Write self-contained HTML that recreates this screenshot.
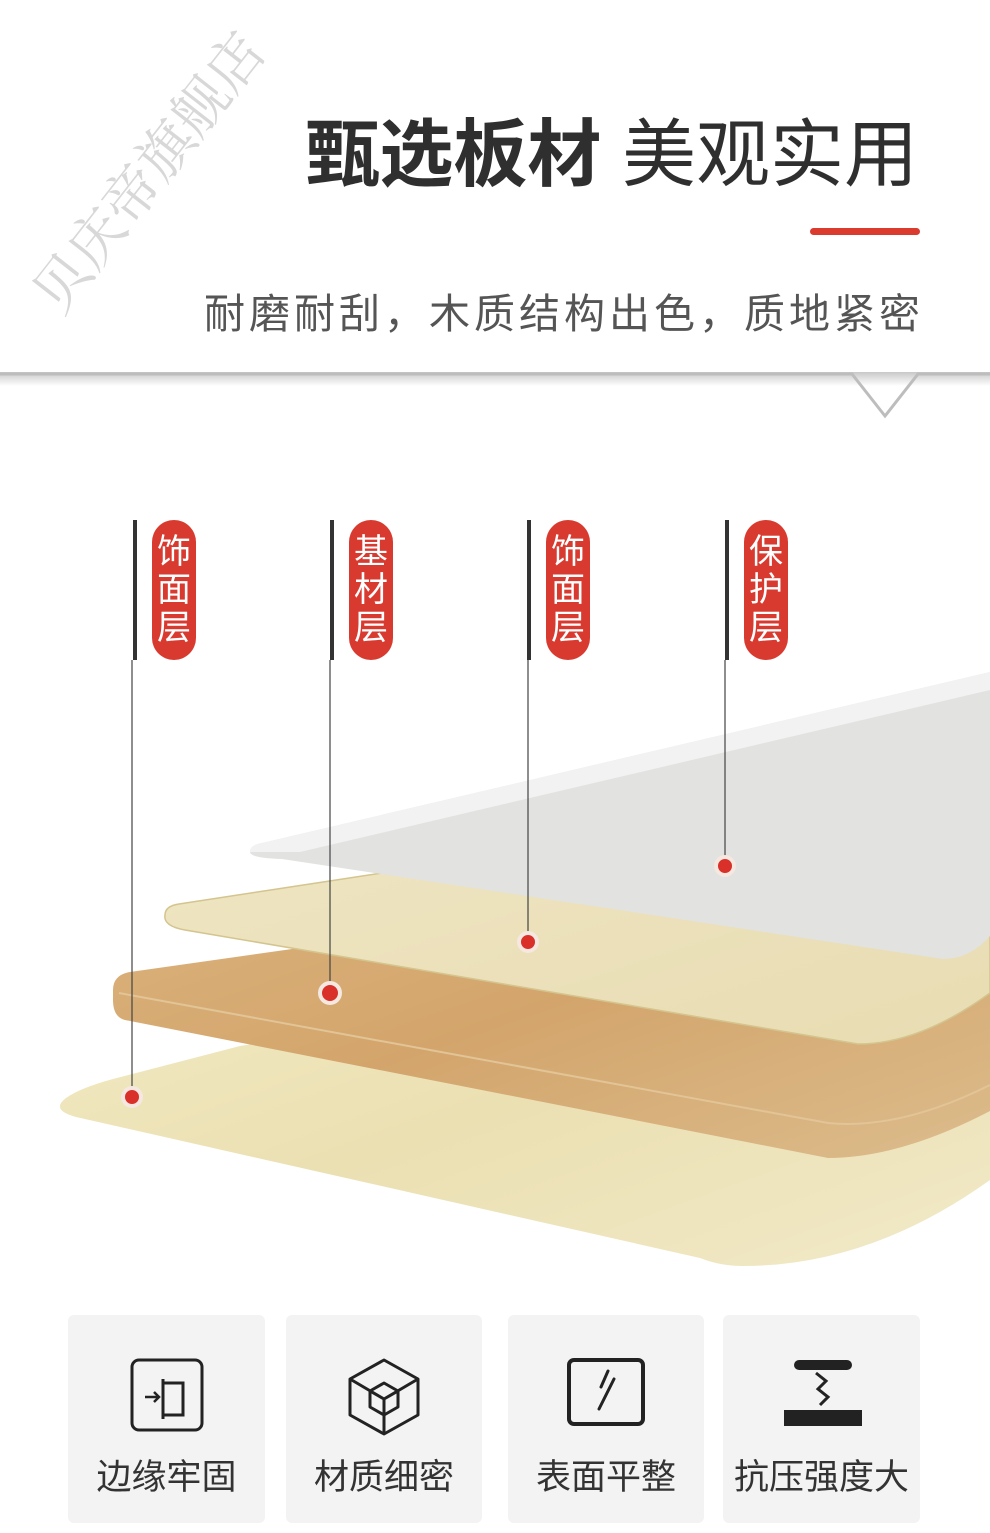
<!DOCTYPE html>
<html><head><meta charset="utf-8"><style>
body{margin:0;width:990px;height:1533px;background:#fff;position:relative;overflow:hidden;font-family:"Liberation Sans","Noto Sans CJK SC",sans-serif}
.a{position:absolute}
.t1{right:72px;top:110px;font-size:74px;color:#2f2f2f;white-space:nowrap;line-height:90px}
.sub{right:66px;top:280px;font-size:41px;color:#555;white-space:nowrap;letter-spacing:4px}
.pill{position:absolute;top:520px;width:44px;height:140px;border-radius:22px;background:#d93a30;color:#fff;font-size:34px;line-height:38px;text-align:center;padding-top:13px;box-sizing:border-box}
.bar{position:absolute;top:520px;width:4px;height:140px;background:#333}
.card{position:absolute;top:1315px;height:208px;background:#f3f3f3;border-radius:6px;text-align:center}
.card span{position:absolute;left:0;right:0;top:134px;font-size:35px;color:#333}
.card svg{position:absolute;left:50%;top:42px;transform:translateX(-50%)}
</style></head><body>
<div class="a" style="left:-22px;top:130px;transform:rotate(-52deg);font-family:'Noto Serif CJK SC',serif;font-size:56px;color:#d8d8d8;white-space:nowrap">贝庆帝旗舰店</div>
<div class="a t1"><b>甄选板材</b>&nbsp;美观实用</div>
<div class="a" style="left:810px;top:228px;width:110px;height:7px;border-radius:4px;background:#db3a2f"></div>
<div class="a sub">耐磨耐刮，木质结构出色，质地紧密</div>
<svg class="a" style="left:0;top:366px" width="990" height="60">
<defs><linearGradient id="sh" x1="0" y1="0" x2="0" y2="1"><stop offset="0" stop-color="#c8c8c8"/><stop offset="1" stop-color="#fff"/></linearGradient></defs>
<rect x="0" y="6" width="990" height="14" fill="url(#sh)"/>
<polyline points="0,8 852,8 885,50 918,8 990,8" fill="none" stroke="#bdbdbd" stroke-width="3"/>
</svg>
<svg class="a" style="left:0;top:0" width="990" height="1300">
<defs>
<linearGradient id="core" x1="0" y1="0" x2="1" y2="1"><stop offset="0" stop-color="#dcb57e"/><stop offset=".5" stop-color="#d3a56c"/><stop offset="1" stop-color="#dcbc8c"/></linearGradient>
<linearGradient id="ven" x1="0" y1="0" x2="1" y2="1"><stop offset="0" stop-color="#efe6c4"/><stop offset="1" stop-color="#e8dcb2"/></linearGradient>
<linearGradient id="bven" x1="0" y1="0" x2="1" y2="1"><stop offset="0" stop-color="#f3ebc6"/><stop offset=".5" stop-color="#ebe0b2"/><stop offset="1" stop-color="#f1e9c8"/></linearGradient>
</defs>
<path d="M66,1098 Q80,1088 113,1079 L240,1046 L990,930 L990,1180 Q870,1266 743,1266 Q720,1266 700,1258 L76,1117 Q50,1110 66,1098Z" fill="url(#bven)"/>
<path d="M113,990 Q113,975 130,972 L990,850 L990,1111 Q900,1158 828,1158 L125,1020 Q113,1017 113,1000Z" fill="url(#core)"/>
<path d="M119,993 L828,1123 Q900,1130 990,1085" fill="none" stroke="#e2c496" stroke-width="2"/>
<path d="M165,915 Q165,906 179,904 L990,780 L990,993 Q920,1044 858,1044 L185,930 Q163,926 165,915Z" fill="url(#ven)" stroke="#d4c48e" stroke-width="1.5"/>
<path d="M250,852 Q250,845 262,843 L990,672 L990,936 Q970,959 943,959 L282,859 Q250,858 250,852Z" fill="#e2e2e0"/>
<path d="M250,852 Q250,845 262,843 L990,672 L990,690 L300,852Z" fill="#f2f2f2"/>
<g stroke="#444" stroke-width="1.2">
<line x1="132" y1="660" x2="132" y2="1097"/><line x1="330" y1="660" x2="330" y2="993"/>
<line x1="528" y1="660" x2="528" y2="942"/><line x1="725" y1="660" x2="725" y2="866"/></g>
<g fill="#d9302a" stroke="#f4e8e0" stroke-width="4">
<circle cx="132" cy="1097" r="9"/><circle cx="330" cy="993" r="10"/><circle cx="528" cy="942" r="9"/><circle cx="725" cy="866" r="9"/></g>
</svg>
<div class="bar" style="left:133px"></div><div class="pill" style="left:152px">饰面层</div>
<div class="bar" style="left:330px"></div><div class="pill" style="left:349px">基材层</div>
<div class="bar" style="left:527px"></div><div class="pill" style="left:546px">饰面层</div>
<div class="bar" style="left:725px"></div><div class="pill" style="left:744px">保护层</div>

<div class="card" style="left:68px;width:197px"><svg width="76" height="76" viewBox="0 0 76 76"><rect x="3" y="3" width="70" height="70" rx="7" fill="none" stroke="#222" stroke-width="3"/><path d="M34,22 V62 M34,26 H54 V58 H34" fill="none" stroke="#222" stroke-width="3"/><path d="M16,40 H30 M25,35 L30,40 L25,45" fill="none" stroke="#222" stroke-width="2.5"/></svg><span>边缘牢固</span></div>
<div class="card" style="left:286px;width:196px"><svg width="76" height="80" viewBox="0 0 76 80"><path d="M38,3 L72,22 V58 L38,77 L4,58 V22Z M4,22 L38,42 L72,22 M38,42 V77 M38,42 L24,34 M38,42 L52,34 L52,50 L38,58 L24,50 L24,34 L38,26 L52,34" fill="none" stroke="#222" stroke-width="3" stroke-linejoin="round"/></svg><span>材质细密</span></div>
<div class="card" style="left:508px;width:196px"><svg width="80" height="70" viewBox="0 0 80 70"><rect x="3" y="3" width="74" height="64" rx="5" fill="none" stroke="#222" stroke-width="4"/><path d="M35,30 L42,14 M33,52 L48,22" stroke="#222" stroke-width="3" stroke-linecap="round"/></svg><span>表面平整</span></div>
<div class="card" style="left:723px;width:197px"><svg width="80" height="70" viewBox="0 0 80 70"><rect x="12" y="3" width="58" height="10" rx="5" fill="#222"/><path d="M34,16 L44,24 L36,32 L46,40 L38,48" fill="none" stroke="#222" stroke-width="3"/><rect x="2" y="53" width="78" height="16" fill="#222"/></svg><span>抗压强度大</span></div>
</body></html>
